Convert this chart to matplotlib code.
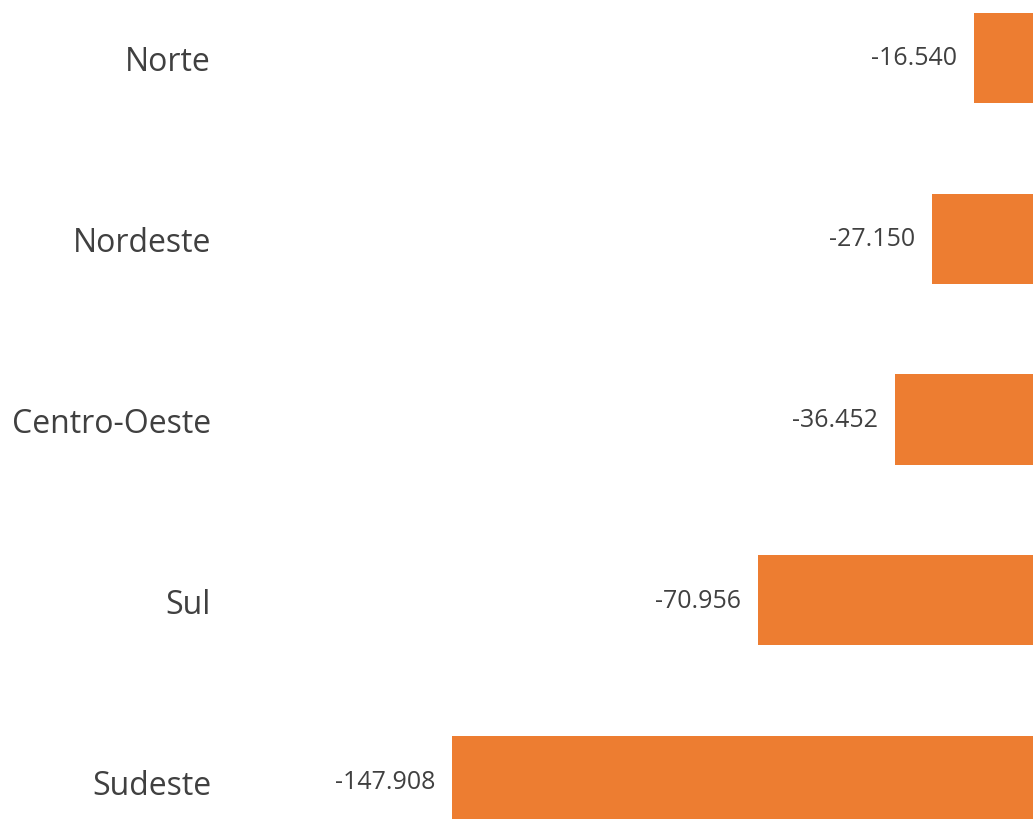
import matplotlib.pyplot as plt

# Dados
regioes = ['Norte', 'Nordeste', 'Centro-Oeste', 'Sul', 'Sudeste']
valores = [-16.540, -27.150, -36.452, -70.956, -147.908]
rotulos = ['-16.540', '-27.150', '-36.452', '-70.956', '-147.908']

plt.rcParams['font.family'] = ['Open Sans', 'DejaVu Sans']

fig = plt.figure(figsize=(10.33, 8.2), dpi=100)
ax = fig.add_axes([225 / 1033, 0, 808 / 1033, 1])

pos = list(range(len(regioes)))
ax.barh(pos, valores, height=0.5, color='#ED7D31')

for p, v, r in zip(pos, valores, rotulos):
    ax.text(v - 4.2, p, r, ha='right', va='center', fontsize=18, color='#404040')

ax.set_xlim(-205.0, -1.69)
ax.set_ylim(4.21, -0.326)
ax.set_yticks(pos)
ax.set_yticklabels(regioes, fontsize=23, color='#404040')
ax.tick_params(axis='y', length=0, pad=10)
ax.set_xticks([])
for s in ax.spines.values():
    s.set_visible(False)

fig.savefig('out.png', dpi=100)
